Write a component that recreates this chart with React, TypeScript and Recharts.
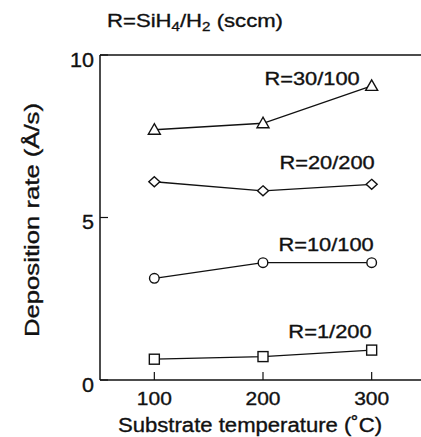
import React from 'react';
import { LineChart, Line, XAxis, YAxis, ReferenceLine, LabelList } from 'recharts';

// substrate temperature (°C)
const temps = [100, 200, 300];
// deposition rate (Å/s) for each SiH4/H2 ratio
const r30 = [7.7, 7.9, 9.05];
const r20 = [6.1, 5.82, 6.02];
const r10 = [3.13, 3.61, 3.61];
const r1 = [0.64, 0.72, 0.92];
const seriesNames = ['R=30/100', 'R=20/200', 'R=10/100', 'R=1/200'];
const xTicks = [100, 200, 300];
const yTicks = [0, 5, 10];

const data = temps.map((t, i) => ({ t, r30: r30[i], r20: r20[i], r10: r10[i], r1: r1[i] }));

const FONT = '"Liberation Sans", Arial, Helvetica, sans-serif';
const INK = '#111';
// scanned print looks a bit heavier than a plain font
const heavy = { stroke: INK, strokeWidth: 0.35 };

const Triangle = (props: any) => {
  const { cx, cy } = props;
  if (cx == null || cy == null) return null;
  return <polygon points={`${cx},${cy - 6} ${cx - 6},${cy + 4.5} ${cx + 6},${cy + 4.5}`} fill="#fff" stroke={INK} strokeWidth={1.4} />;
};
const Diamond = (props: any) => {
  const { cx, cy } = props;
  if (cx == null || cy == null) return null;
  return <polygon points={`${cx},${cy - 5} ${cx + 5.5},${cy} ${cx},${cy + 5} ${cx - 5.5},${cy}`} fill="#fff" stroke={INK} strokeWidth={1.4} />;
};
const Circle = (props: any) => {
  const { cx, cy } = props;
  if (cx == null || cy == null) return null;
  return <circle cx={cx} cy={cy} r={4.8} fill="#fff" stroke={INK} strokeWidth={1.4} />;
};
const Square = (props: any) => {
  const { cx, cy } = props;
  if (cx == null || cy == null) return null;
  return <rect x={cx - 5} y={cy - 5} width={10} height={10} fill="#fff" stroke={INK} strokeWidth={1.4} />;
};

// label drawn next to the last point of a series
const endLabel = (name: string, dx: number, dy: number) => (props: any) => {
  const { x, y, index } = props;
  if (index !== temps.length - 1) return null;
  return (
    <text x={x + dx} y={y + dy} textAnchor="end" fontFamily={FONT} fontSize={18} fill={INK} {...heavy}
      textLength={name.length * 11.9} lengthAdjust="spacingAndGlyphs">
      {name}
    </text>
  );
};

const XTick = (props: any) => {
  const { x, y, payload } = props;
  return (
    <g>
      <line x1={x} x2={x} y1={y} y2={y - 8} stroke={INK} strokeWidth={1.2} />
      <text x={x} y={y + 25} textAnchor="middle" fontFamily={FONT} fontSize={19} fill={INK} {...heavy}
        textLength={35} lengthAdjust="spacingAndGlyphs">{payload.value}</text>
    </g>
  );
};

const YTick = (props: any) => {
  const { x, y, payload } = props;
  const s = String(payload.value);
  return (
    <g>
      <line x1={x} x2={x + 8} y1={y} y2={y} stroke={INK} strokeWidth={1.2} />
      <text x={x - 6} y={y + 11.5} textAnchor="end" fontFamily={FONT} fontSize={20.5} fill={INK} {...heavy}
        textLength={s.length * 12} lengthAdjust="spacingAndGlyphs">{s}</text>
    </g>
  );
};

const XLabel = (props: any) => {
  const { viewBox } = props;
  return (
    <text x={250} y={viewBox.y + 52} textAnchor="middle" fontFamily={FONT} fontSize={20} fill={INK} {...heavy}
      textLength={264} lengthAdjust="spacingAndGlyphs">
      Substrate temperature (˚C)
    </text>
  );
};

const YLabel = () => (
  <text x={0} y={0} transform="translate(39 220) rotate(-90)" textAnchor="middle" fontFamily={FONT} fontSize={20} fill={INK} {...heavy}
    textLength={234} lengthAdjust="spacingAndGlyphs">
    Deposition rate (Å/s)
  </text>
);

export default function App() {
  return (
    <div style={{ position: 'absolute', left: 0, top: 0, width: 421, height: 437, overflow: 'hidden', background: '#fff' }}>
      <LineChart width={430} height={437} data={data} margin={{ top: 55, right: 4, bottom: 0, left: 0 }}>
        <XAxis dataKey="t" type="number" domain={[50, 350]} ticks={xTicks} height={57}
          axisLine={{ stroke: INK, strokeWidth: 1.5 }} tickLine={false} tickSize={0} tickMargin={0}
          tick={<XTick />} label={<XLabel />} />
        <YAxis type="number" domain={[0, 10]} ticks={yTicks} width={100}
          axisLine={{ stroke: INK, strokeWidth: 1.5 }} tickLine={false} tickSize={0} tickMargin={0}
          tick={<YTick />} label={<YLabel />} />
        <ReferenceLine y={10} stroke={INK} strokeWidth={1.5} />
        <Line dataKey="r30" stroke={INK} strokeWidth={1.3} dot={<Triangle />} isAnimationActive={false}>
          <LabelList dataKey="r30" content={endLabel(seriesNames[0], -12, -1)} />
        </Line>
        <Line dataKey="r20" stroke={INK} strokeWidth={1.3} dot={<Diamond />} isAnimationActive={false}>
          <LabelList dataKey="r20" content={endLabel(seriesNames[1], 3, -15)} />
        </Line>
        <Line dataKey="r10" stroke={INK} strokeWidth={1.3} dot={<Circle />} isAnimationActive={false}>
          <LabelList dataKey="r10" content={endLabel(seriesNames[2], 2, -12)} />
        </Line>
        <Line dataKey="r1" stroke={INK} strokeWidth={1.3} dot={<Square />} isAnimationActive={false}>
          <LabelList dataKey="r1" content={endLabel(seriesNames[3], 0, -12)} />
        </Line>
      </LineChart>
      <svg style={{ position: 'absolute', left: 0, top: 0 }} width={421} height={40}>
        <text x={107} y={27} fontFamily={FONT} fontSize={19} fill={INK} {...heavy} textLength={176} lengthAdjust="spacingAndGlyphs">
          R=SiH<tspan dy={4} fontSize={13}>4</tspan><tspan dy={-4}>/H</tspan><tspan dy={4} fontSize={13}>2</tspan><tspan dy={-4}> (sccm)</tspan>
        </text>
      </svg>
    </div>
  );
}
